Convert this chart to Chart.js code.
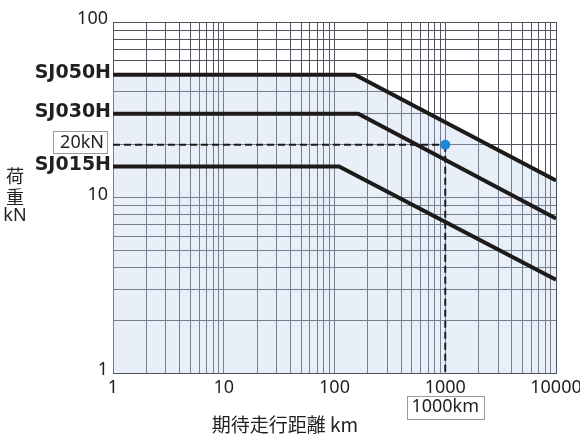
<!DOCTYPE html>
<html>
<head>
<meta charset="utf-8">
<script src="https://cdn.jsdelivr.net/npm/chart.js@4/dist/chart.umd.min.js"></script>
<style>
  html, body { margin: 0; padding: 0; background: #fff; }
  canvas { display: block; }
</style>
</head>
<body>
<canvas id="chart" width="580" height="440"></canvas>
<script>
// data (log-log: distance km vs load kN)
const seriesNames = ['SJ050H', 'SJ030H', 'SJ015H'];
const ratedLoad = [50, 30, 15];          // flat part, kN
const kneeDistance = [153, 164, 110];    // where the curve starts to drop, km
const loadAtEnd = [12.5, 7.6, 3.4];      // load at 10000 km
const distStart = 1;
const distEnd = 10000;

const exampleDistance = 1000;
const exampleLoad = 20;

const xTickLabels = [1, 10, 100, 1000, 10000];
const yTickLabels = [1, 10, 100];
const gridSteps = [1, 2, 3, 4, 5, 6, 7, 8, 9];

const lineColor = '#1e1a1a';
const gridColor = '#50535e';
const textColor = '#231f20';

function gridValues(decades) {
    const out = [];
    decades.forEach((d, i) => {
        if (i === decades.length - 1) { out.push(d); return; }
        gridSteps.forEach(s => out.push(d * s));
    });
    return out;
}

const datasets = seriesNames.map((name, i) => ({
    label: name,
    data: [
        { x: distStart, y: ratedLoad[i] },
        { x: kneeDistance[i], y: ratedLoad[i] },
        { x: distEnd, y: loadAtEnd[i] }
    ],
    showLine: true,
    borderColor: lineColor,
    borderWidth: 4,
    pointRadius: 0,
    fill: i === 0 ? 'start' : false,
    backgroundColor: 'rgba(190, 210, 238, 0.35)'
}));

datasets.push({
    label: 'hline',
    data: [{ x: distStart, y: exampleLoad }, { x: exampleDistance, y: exampleLoad }],
    showLine: true, borderColor: lineColor, borderWidth: 2, borderDash: [7, 4], pointRadius: 0, fill: false
});
datasets.push({
    label: 'vline',
    data: [{ x: exampleDistance, y: exampleLoad }, { x: exampleDistance, y: 1 }],
    showLine: true, borderColor: lineColor, borderWidth: 2, borderDash: [7, 4], pointRadius: 0, fill: false
});
datasets.push({
    label: 'point',
    data: [{ x: exampleDistance, y: exampleLoad }],
    pointRadius: 5, pointBackgroundColor: '#1a88d8', pointBorderWidth: 0,
    order: -1
});

const textPlugin = {
    id: 'texts',
    afterDraw(chart) {
        const ctx = chart.ctx;
        const x = chart.scales.x, y = chart.scales.y;
        const area = chart.chartArea;
        ctx.save();
        ctx.fillStyle = textColor;

        // series names on the left
        ctx.font = 'bold 19px "DejaVu Sans"';
        ctx.textAlign = 'right';
        ctx.textBaseline = 'alphabetic';
        seriesNames.forEach((name, i) => {
            ctx.fillText(name, area.left - 2, y.getPixelForValue(ratedLoad[i]) + 3);
        });

        // 20kN box
        const ly = y.getPixelForValue(exampleLoad);
        ctx.strokeStyle = '#9a9a9a';
        ctx.lineWidth = 1;
        ctx.strokeRect(53.5, Math.round(ly - 14) + 0.5, 54, 22);
        ctx.font = '18px "Noto Sans"';
        ctx.textBaseline = 'middle';
        ctx.fillText(exampleLoad + 'kN', area.left - 9, ly - 2);

        // 1000km box
        const lx = x.getPixelForValue(exampleDistance);
        ctx.strokeRect(Math.round(lx - 38) + 0.5, 396.5, 77, 23);
        ctx.textAlign = 'center';
        ctx.fillText(exampleDistance + 'km', lx, 407);

        // axis titles
        ctx.font = '18px "Noto Sans CJK JP"';
        ctx.fillText('荷', 15, 176);
        ctx.fillText('重', 15, 197);
        ctx.font = '18px "Noto Sans"';
        ctx.fillText('kN', 15, 216);
        ctx.font = '19px "Noto Sans CJK JP"';
        ctx.fillText('期待走行距離 km', 285, 425);
        ctx.restore();
    }
};

new Chart(document.getElementById('chart'), {
    type: 'scatter',
    data: { datasets },
    options: {
        responsive: false,
        animation: false,
        layout: { padding: { top: 22, right: 24, left: 0, bottom: 0 } },
        plugins: {
            legend: { display: false },
            tooltip: { enabled: false },
            filler: { drawTime: 'beforeDatasetsDraw' }
        },
        scales: {
            x: {
                type: 'logarithmic',
                min: distStart,
                max: distEnd,
                afterBuildTicks: s => { s.ticks = gridValues(xTickLabels).map(v => ({ value: v })); },
                afterFit: s => { s.height = 67; s.paddingRight = 0; s.paddingLeft = 0; },
                grid: { color: gridColor, lineWidth: 1, drawTicks: false },
                border: { color: gridColor, width: 1 },
                ticks: {
                    autoSkip: false,
                    maxRotation: 0,
                    padding: 4,
                    color: textColor,
                    font: { family: 'Noto Sans', size: 18 },
                    callback: v => xTickLabels.includes(v) ? String(v) : ''
                }
            },
            y: {
                type: 'logarithmic',
                min: 1,
                max: 100,
                afterBuildTicks: s => { s.ticks = gridValues(yTickLabels).map(v => ({ value: v })); },
                afterFit: s => { s.width = 113; },
                grid: { color: gridColor, lineWidth: 1, drawTicks: false },
                border: { color: gridColor, width: 1 },
                ticks: {
                    autoSkip: false,
                    padding: 5,
                    labelOffset: -3,
                    color: textColor,
                    font: { family: 'Noto Sans', size: 18 },
                    callback: v => yTickLabels.includes(v) ? String(v) : ''
                }
            }
        }
    },
    plugins: [textPlugin]
});
</script>
</body>
</html>
